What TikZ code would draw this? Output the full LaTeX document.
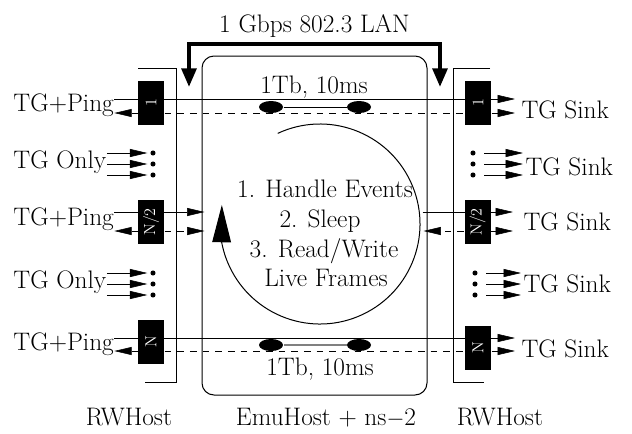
\documentclass[tikz,border=0pt]{standalone}
\usepackage{graphicx}
\usetikzlibrary{arrows.meta,shapes.geometric,backgrounds,bending}
\newcommand{\lblfont}{\fontsize{19}{23}\selectfont}
\newcommand{\boxfont}{\fontsize{12}{14}\selectfont}
\tikzset{
  txt/.style={font=\lblfont, inner sep=0pt},
  hostbox/.style={fill=black, text=white, font=\boxfont, minimum width=19.5pt, minimum height=33pt, inner sep=0pt},
  hop/.style={ellipse, fill=black, minimum width=18pt, minimum height=9pt, inner sep=0pt},
  hdot/.style={circle, fill=black, minimum size=3.8pt, inner sep=0pt},
  sig/.style={>={Triangle[length=13pt,width=6pt]}, ->},
  rev/.style={dash pattern=on 5pt off 4.5pt},
  lanarrow/.style={line width=3pt, >={Triangle[length=14pt,width=11pt]}, <->},
}

\begin{document}
\begin{tikzpicture}[x=0.75pt,y=-0.75pt,line width=0.75pt]
	\useasboundingbox (0,0) rectangle (632,433);
	% levels of the forward and reverse paths
	\coordinate (s1) at (0,99);  \coordinate (d1) at (0,113);
	\coordinate (s3) at (0,212); \coordinate (d3) at (0,231);
	\coordinate (s5) at (0,338); \coordinate (d5) at (0,351);

	\node[draw, rounded corners=9pt, minimum width=168.75pt, minimum height=254.25pt, inner sep=0pt] (emu) at (314.5,225.5) {};

	% LAN
	\node[txt, anchor=base] (lan) at (314.5,32) {1 Gbps 802.3 LAN};
	\coordinate (lanl) at (189,87);
	\coordinate (lanr) at (440,87);
	\draw[lanarrow] (lanl) -- (lanl |- 0,44) -- (lanr |- 0,44) -- (lanr);

	% RWHost brackets
	\draw (138,68) -- (176,68) -- (176,382) -- (145,382);
	\draw (490,68) -- (453,68) -- (453,382) -- (484,382);

	% hosts
	\node[hostbox] (lb1) at (151,103) {\rotatebox{90}{1}};
	\node[hostbox] (lb3) at (151,222) {\rotatebox{90}{N/2}};
	\node[hostbox] (lb5) at (151,341.5) {\rotatebox{90}{N}};
	\node[hostbox] (rb1) at (478,103) {\rotatebox{90}{1}};
	\node[hostbox] (rb3) at (477.5,222) {\rotatebox{90}{N/2}};
	\node[hostbox] (rb5) at (478,348) {\rotatebox{90}{N}};

	% ns-2 links
	\node[hop] (h1a) at (271,107) {};
	\node[hop] (h1b) at (359,107) {};
	\node[hop] (h5a) at (271,345) {};
	\node[hop] (h5b) at (359,345) {};
	\node[txt, anchor=base] (bw1) at (314,93) {1Tb, 10ms};
	\node[txt, anchor=base] (bw5) at (320,375) {1Tb, 10ms};

	% sources
	\node[txt, anchor=base west] (tgp1) at (13,111) {TG+Ping};
	\node[txt, anchor=base west] (tgo2) at (13,168) {TG Only};
	\node[txt, anchor=base west] (tgp3) at (13,225) {TG+Ping};
	\node[txt, anchor=base west] (tgo4) at (13,288) {TG Only};
	\node[txt, anchor=base west] (tgp5) at (13,350) {TG+Ping};
	% sinks
	\node[txt, anchor=base west] (sink1) at (521,118) {TG Sink};
	\node[txt, anchor=base west] (sink2) at (525,175) {TG Sink};
	\node[txt, anchor=base west] (sink3) at (523,230) {TG Sink};
	\node[txt, anchor=base west] (sink4) at (523,292) {TG Sink};
	\node[txt, anchor=base west] (sink5) at (521,357) {TG Sink};

	% more hosts
	\node[hdot] (l2a) at (153,153) {};
	\node[hdot] (l2b) at (153,164) {};
	\node[hdot] (l2c) at (153,175) {};
	\node[hdot] (l4a) at (153,273) {};
	\node[hdot] (l4b) at (153,284) {};
	\node[hdot] (l4c) at (153,295) {};
	\node[hdot] (r2a) at (473,153) {};
	\node[hdot] (r2b) at (473,164) {};
	\node[hdot] (r2c) at (473,175) {};
	\node[hdot] (r4a) at (475,273) {};
	\node[hdot] (r4b) at (475,284) {};
	\node[hdot] (r4c) at (475,295) {};

	% event loop
	\node[txt, anchor=base] (ev1) at (325,197) {1. Handle Events};
	\node[txt, anchor=base] (ev2) at (320,227) {2. Sleep};
	\node[txt, anchor=base] (ev3) at (324,257) {3. Read/Write};
	\node[txt, anchor=base] (ev4) at (326,286) {Live Frames};
	\draw[-{Triangle[length=28pt,width=14pt]}] (320,224) ++(-115:100) arc[start angle=-115, end angle=191, radius=100];

	% bottom labels
	\node[txt, anchor=base] (rwl) at (129,425) {RWHost};
	\node[txt, anchor=base] (emulbl) at (326,425) {EmuHost + ns$-$2};
	\node[txt, anchor=base] (rwr) at (500,425) {RWHost};

	\begin{scope}[on background layer]
	% row 1
	\draw[sig, shorten >=4.5pt] (tgp1.east |- s1) -- (sink1.west |- s1);
	\draw[rev] (lb1.east |- d1) -- (rb1.west |- d1);
	\draw[sig] (lb1.west |- d1) -- (tgp1.east |- d1);
	\draw[sig, shorten >=4.5pt] (rb1.east |- d1) -- (sink1.west |- d1);
	\draw (h1a) -- (h1b);
	% row 3
	\draw[sig, shorten >=-2.25pt] (tgp3.east |- s3) -- (emu.west |- s3);
	\draw[sig, rev, shorten >=-2.25pt] (lb3.east |- d3) -- (emu.west |- d3);
	\draw[sig] (lb3.west |- d3) -- (tgp3.east |- d3);
	\draw[sig, shorten <=-3.75pt, shorten >=7.5pt] (emu.east |- s3) -- (sink3.west |- s3);
	\draw[sig, rev, shorten >=-3pt] (rb3.west |- d3) -- (emu.east |- d3);
	\draw[sig, shorten >=7.5pt] (rb3.east |- d3) -- (sink3.west |- d3);
	% row 5
	\draw[sig, shorten >=4.5pt] (tgp5.east |- s5) -- (sink5.west |- s5);
	\draw[rev] (lb5.east |- d5) -- (rb5.west |- d5);
	\draw[sig] (lb5.west |- d5) -- (tgp5.east |- d5);
	\draw[sig, shorten >=4.5pt] (rb5.east |- d5) -- (sink5.west |- d5);
	\draw[gray, line width=1.5pt] (h5a) -- (h5b);
	% rows 2 and 4
	\draw[sig, shorten >=2pt] (tgo2.east |- l2a) -- (l2a);
	\draw[sig, shorten >=2pt] (tgo2.east |- l2b) -- (l2b);
	\draw[sig, shorten >=2pt] (tgo2.east |- l2c) -- (l2c);
	\draw[sig, shorten >=2pt] (tgo4.east |- l4a) -- (l4a);
	\draw[sig, shorten >=2pt] (tgo4.east |- l4b) -- (l4b);
	\draw[sig, shorten >=2pt] (tgo4.east |- l4c) -- (l4c);
	\draw[sig, shorten <=6pt, shorten >=1.5pt] (r2a) -- (sink2.west |- r2a);
	\draw[sig, shorten <=6pt, shorten >=1.5pt] (r2b) -- (sink2.west |- r2b);
	\draw[sig, shorten <=6pt, shorten >=1.5pt] (r2c) -- (sink2.west |- r2c);
	\draw[sig, shorten <=6pt, shorten >=1.5pt] (r4a) -- (sink4.west |- r4a);
	\draw[sig, shorten <=6pt, shorten >=1.5pt] (r4b) -- (sink4.west |- r4b);
	\draw[sig, shorten <=6pt, shorten >=1.5pt] (r4c) -- (sink4.west |- r4c);
	\end{scope}
\end{tikzpicture}
\end{document}
